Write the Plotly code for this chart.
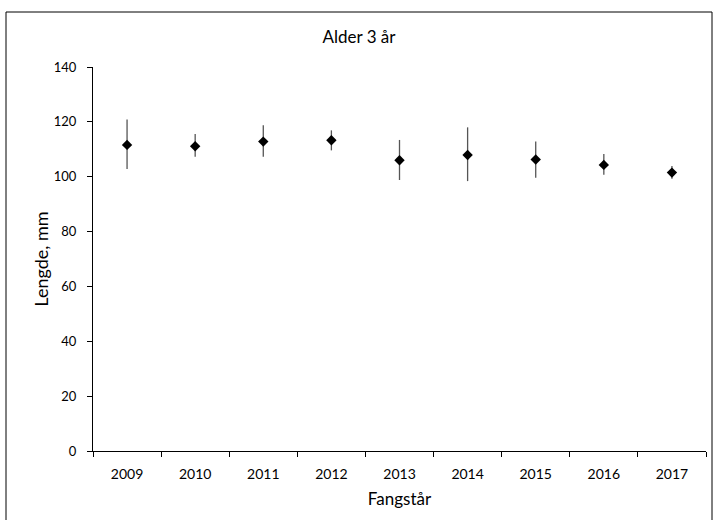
import plotly.graph_objects as go

years = ["2009", "2010", "2011", "2012", "2013", "2014", "2015", "2016", "2017"]
mean_len = [111.6, 111.1, 112.8, 113.3, 106.0, 107.9, 106.3, 104.3, 101.5]
upper = [120.9, 115.6, 118.8, 116.9, 113.4, 118.0, 112.8, 108.3, 103.9]
lower = [102.8, 107.3, 107.3, 109.6, 98.8, 98.4, 99.6, 100.7, 99.3]

err_plus = [u - m for u, m in zip(upper, mean_len)]
err_minus = [m - l for m, l in zip(mean_len, lower)]

font_family = "Lato, 'Open Sans', sans-serif"

fig = go.Figure()
fig.add_trace(go.Scatter(
    x=years, y=mean_len, mode="markers",
    marker=dict(symbol="diamond", size=8, color="black"),
    error_y=dict(type="data", symmetric=False, array=err_plus, arrayminus=err_minus,
                 color="#555555", thickness=1.3, width=0),
    showlegend=False,
))

L, R, T, B = 93, 8, 67, 69
W, H = 714, 520
pw, ph = W - L - R, H - T - B

fig.update_layout(
    width=W, height=H,
    margin=dict(l=L, r=R, t=T, b=B),
    paper_bgcolor="white", plot_bgcolor="white",
    font=dict(family=font_family, color="black", size=13),
    title=dict(text="Alder 3 år", x=(359 - L) / pw, xref="paper", xanchor="center",
               y=1 - 37 / H, yanchor="middle", font=dict(size=17)),
    xaxis=dict(type="category", showline=True, linecolor="black", linewidth=1,
               ticks="outside", ticklen=5, tickcolor="black", tickson="boundaries",
               showgrid=False, zeroline=False, range=[-0.5, 8.5],
               ticklabelstandoff=10,
               title=dict(text="Fangstår", font=dict(size=17), standoff=12),
               tickfont=dict(size=14)),
    yaxis=dict(range=[0, 140], dtick=20, showline=True, linecolor="black", linewidth=1,
               ticks="outside", ticklen=5, tickcolor="black",
               showgrid=False, zeroline=False, ticklabelstandoff=8,
               title=dict(text="Lengde, mm", font=dict(size=18), standoff=0),
               tickfont=dict(size=13)),
    shapes=[dict(type="rect", xref="paper", yref="paper",
                 x0=(6 - L) / pw, x1=(712 - L) / pw,
                 y0=(H - B - 530) / ph, y1=(H - B - 12) / ph,
                 line=dict(color="black", width=1), fillcolor="rgba(0,0,0,0)",
                 layer="below")],
)

fig.write_html("out.html")
